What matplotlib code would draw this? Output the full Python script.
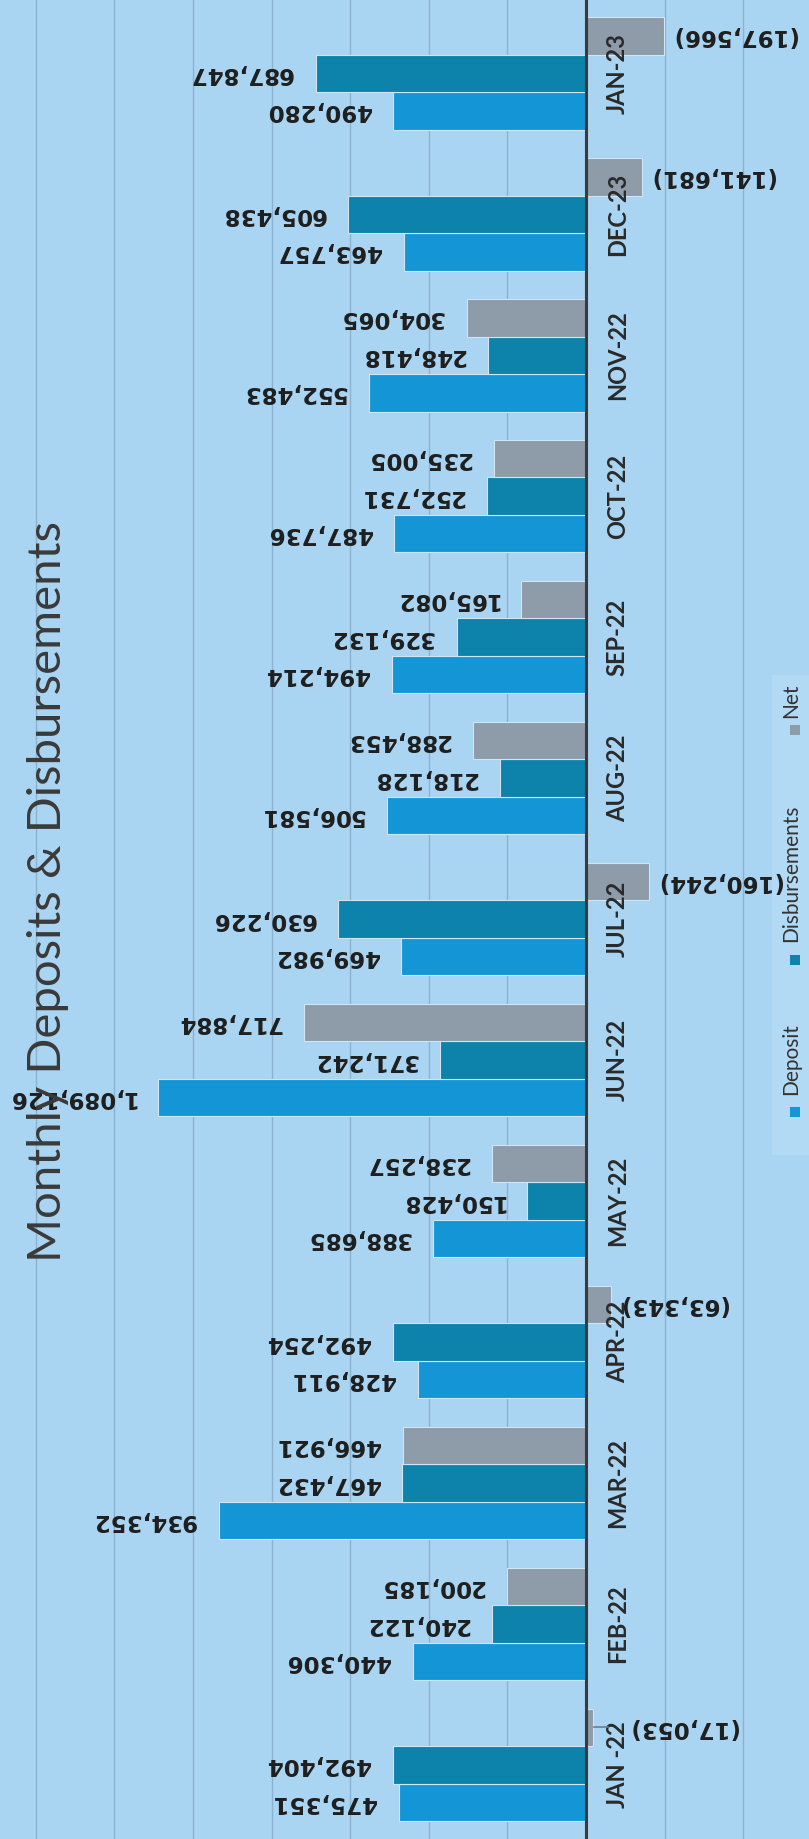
#!/usr/bin/env python3

import matplotlib
matplotlib.use("Agg")
import matplotlib.pyplot as plt
import numpy as np
from matplotlib.patches import Rectangle

months = ["JAN -22", "FEB-22", "MAR-22", "APR-22", "MAY-22", "JUN-22", "JUL-22",
          "AUG-22", "SEP-22", "OCT-22", "NOV-22", "DEC-23", "JAN-23"]
deposit = [475351, 440306, 934352, 428911, 388685, 1089126, 469982,
           506581, 494214, 487736, 552483, 463757, 490280]
disbursements = [492404, 240122, 467432, 492254, 150428, 371242, 630226,
                 218128, 329132, 252731, 248418, 605438, 687847]
net = [-17053, 200185, 466921, -63343, 238257, 717884, -160244,
       288453, 165082, 235005, 304065, -141681, -197566]
series_names = ["Deposit", "Disbursements", "Net"]

BG = "#a9d4f2"
COLORS = ["#1496d6", "#0d82aa", "#8e9ba8"]
W, H = 809, 1839


def fmt(v):
    if v < 0:
        return "({:,})".format(-v)
    return "{:,}".format(v)


def main():
    fig = plt.figure(figsize=(W / 100, H / 100), dpi=100)
    fig.patch.set_facecolor(BG)
    ax = fig.add_axes([0, 0, 1, 1])
    ax.set_facecolor(BG)

    y = np.arange(len(months))
    h = 0.266
    offsets = [-h, 0, h]  # deposit at the bottom of each group, net on top
    label_kw = dict(rotation=180, rotation_mode="anchor", va="center", fontsize=16.5,
                    fontweight="bold", family="DejaVu Sans", color="#1e1e1e", zorder=4)

    for series, off, color in zip([deposit, disbursements, net], offsets, COLORS):
        ax.barh(y + off, series, height=h, color=color, edgecolor="#cfe6f6",
                linewidth=0.8, zorder=2)
        for yi, v in zip(y, series):
            # labels are printed upside down (chart was scanned sideways)
            if v >= 0:
                ax.text(v + 58000, yi + off, fmt(v), ha="left", **label_kw)
            elif v > -30000:
                # tiny bar: label pushed out with a leader line
                ax.plot([v - 3000, -55000], [yi + off, yi + off], color="#6f7d8a",
                        linewidth=1.2, zorder=6)
                ax.text(-105000, yi + off, fmt(v), ha="right", **label_kw)
            else:
                ax.text(v - 17000, yi + off, fmt(v), ha="right", **label_kw)

    for yi, m in zip(y, months):
        ax.text(-79000, yi, m, rotation=90, ha="center", va="center", fontsize=17,
                fontweight="bold", family="Lato", color="#2a2a2a", zorder=5)

    ax.set_xlim(1.491e6, -0.567e6)
    ax.set_ylim(-0.525, 12.52)
    ax.set_xticks(np.arange(-400000, 1400001, 200000))
    ax.set_yticks([])
    ax.tick_params(axis="x", length=0, labelbottom=False)
    ax.grid(axis="x", color="#8bb3cf", linewidth=1, zorder=0)
    ax.set_axisbelow(True)
    ax.axvline(0, color="#3a3a3a", linewidth=2.2, zorder=3)
    for s in ax.spines.values():
        s.set_visible(False)

    fig.text(48 / W, 1 - 891 / H, "Monthly Deposits & Disbursements", rotation=90,
             ha="center", va="center", fontsize=34, family="Lato", color="#3a3a3a")

    # legend, rotated like the rest of the picture; box sits under the data labels
    ax.add_patch(Rectangle((772 / W, 1 - 1155 / H), 37 / W, 480 / H,
                           transform=fig.transFigure, facecolor="#b2daf4",
                           edgecolor="none", zorder=1, clip_on=False))
    key_y = [1112, 960, 730]
    text_y = [1095, 942, 718]
    for name, color, ky, ty in zip(series_names, COLORS, key_y, text_y):
        ax.add_patch(Rectangle((790 / W, 1 - (ky + 5) / H), 10 / W, 10 / H,
                               transform=fig.transFigure, facecolor=color,
                               edgecolor="none", zorder=1.5, clip_on=False))
        ax.text(791 / W, 1 - ty / H, name, rotation=90, rotation_mode="anchor",
                transform=fig.transFigure, ha="left", va="center", fontsize=15,
                family="Lato", color="#333333", zorder=1.5)

    fig.savefig("out.png", dpi=100, facecolor=BG)


if __name__ == "__main__":
    main()
